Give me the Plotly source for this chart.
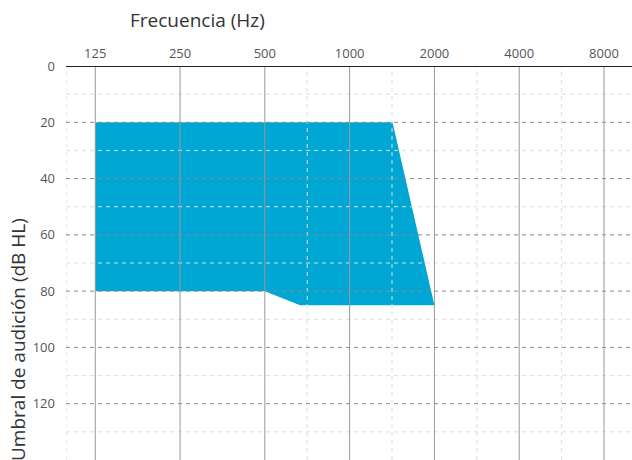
import math
import plotly.graph_objects as go

# Data
freq_ticks = [125, 250, 500, 1000, 2000, 4000, 8000]
freq_labels = ["125", "250", "500", "1000", "2000", "4000", "8000"]
interoctave_from = [500, 1000, 2000, 4000]
db_major = [20, 40, 60, 80, 100, 120]
db_minor = [10, 30, 50, 70, 90, 110, 130]
db_ticks = [0, 20, 40, 60, 80, 100, 120]

area_freq = [125, 1420, 2000, 667, 500, 125]
area_db = [20, 20, 85, 85, 80, 80]

x_range = [98.4, 10060]
y_range = [140, 0]

# inter-octave grid lines at geometric midpoints, plus the left edge
half_octaves = [x_range[0]] + [f * math.sqrt(2) for f in interoctave_from]

fig = go.Figure()
fig.add_trace(go.Scatter(
    x=area_freq, y=area_db, fill="toself", mode="lines",
    line=dict(width=0), fillcolor="#00A6D4", hoverinfo="skip", showlegend=False,
))

shapes = []
for f in half_octaves:
    shapes.append(dict(type="line", xref="x", yref="paper", x0=f, x1=f, y0=0, y1=1,
                       line=dict(color="#DDDDDD", width=1, dash="4px,4px"), layer="above"))
for d in db_minor:
    shapes.append(dict(type="line", xref="paper", yref="y", x0=0, x1=1, y0=d, y1=d,
                       line=dict(color="#DDDDDD", width=1, dash="4px,4px"), layer="above"))
for d in db_major:
    shapes.append(dict(type="line", xref="paper", yref="y", x0=0, x1=1, y0=d, y1=d,
                       line=dict(color="#8A8A8A", width=1, dash="4px,4px"), layer="above"))
for f in freq_ticks:
    shapes.append(dict(type="line", xref="x", yref="paper", x0=f, x1=f, y0=0, y1=1,
                       line=dict(color="#999999", width=1), layer="above"))
shapes.append(dict(type="line", xref="paper", yref="y", x0=0, x1=1, y0=0, y1=0,
                   line=dict(color="#222222", width=2), layer="above"))

fig.update_layout(
    width=632, height=460,
    margin=dict(l=66, r=0, t=66, b=0, autoexpand=False),
    paper_bgcolor="white", plot_bgcolor="white",
    font=dict(family="Open Sans, Noto Sans, sans-serif", color="#555555", size=13),
    shapes=shapes,
    xaxis=dict(
        type="log", range=[math.log10(x_range[0]), math.log10(x_range[1])],
        side="top", tickvals=freq_ticks, ticktext=freq_labels, automargin=False,
        showgrid=False, zeroline=False, showline=False, ticks="",
        tickfont=dict(size=13, color="#555555"), ticklabelstandoff=4,
    ),
    yaxis=dict(
        range=y_range, tickvals=db_ticks, automargin=False,
        showgrid=False, zeroline=False, showline=False, ticks="",
        tickfont=dict(size=13, color="#555555"), ticklabelstandoff=10,
    ),
    annotations=[
        dict(text="Frecuencia (Hz)", xref="paper", yref="paper", x=(197-66)/566, y=1 + (66-20)/394,
             showarrow=False, xanchor="center", yanchor="middle",
             font=dict(size=19, color="#333333")),
        dict(text="Umbral de audición (dB HL)", xref="paper", yref="paper", x=-(66-18)/566,
             y=1 - (340-66)/394, textangle=-90, showarrow=False, xanchor="center", yanchor="middle",
             font=dict(size=19, color="#333333")),
    ],
)

fig.write_html("out.html", config={"displayModeBar": False},
               post_script="document.body.style.margin='0';document.body.style.overflow='hidden';")
